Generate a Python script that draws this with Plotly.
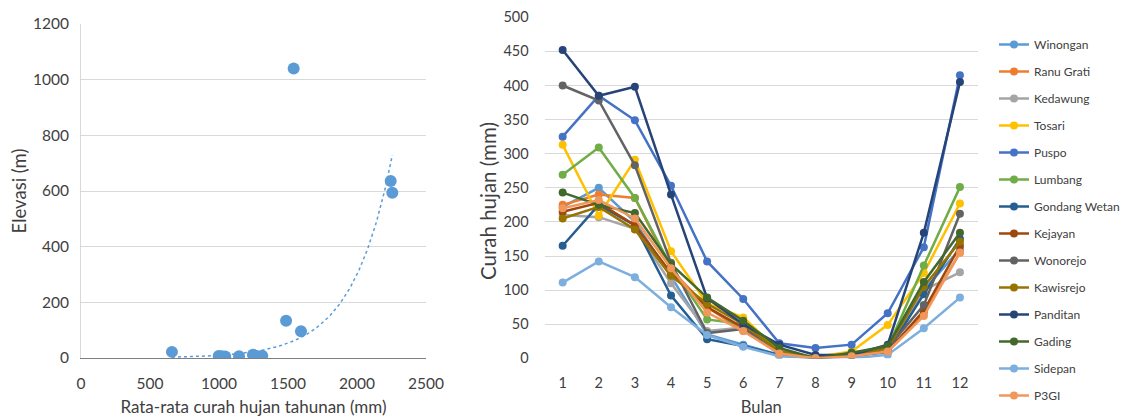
import numpy as np
import plotly.graph_objects as go

# ---- Left chart data: annual rainfall vs elevation ----
rain_annual = [659, 998, 1020, 1045, 1145, 1246, 1268, 1313, 1486, 1541, 1594, 2244, 2256]
elevation = [22, 7, 6, 5, 6, 12, 6, 8, 134, 1040, 96, 636, 594]

# ---- Right chart data: monthly rainfall per station ----
months = [1, 2, 3, 4, 5, 6, 7, 8, 9, 10, 11, 12]
winongan = [222, 250, 200, 120, 35, 20, 5, 0, 5, 8, 100, 160]
ranu_grati = [225, 240, 235, 130, 75, 40, 8, 0, 5, 10, 65, 155]
kedawung = [210, 207, 190, 110, 40, 45, 5, 0, 3, 10, 100, 126]
tosari = [313, 209, 291, 157, 80, 60, 10, 2, 10, 49, 125, 227]
puspo = [325, 385, 349, 253, 142, 87, 22, 15, 20, 66, 163, 415]
lumbang = [269, 309, 235, 135, 57, 50, 10, 0, 8, 15, 136, 251]
gondang_wetan = [165, 225, 195, 92, 28, 18, 5, 0, 3, 10, 94, 175]
kejayan = [215, 228, 195, 125, 75, 45, 8, 0, 5, 10, 70, 165]
wonorejo = [400, 378, 283, 140, 37, 43, 10, 0, 5, 15, 78, 212]
kawisrejo = [205, 222, 189, 121, 80, 50, 10, 0, 5, 15, 105, 171]
panditan = [452, 385, 398, 240, 88, 50, 20, 5, 5, 20, 184, 405]
gading = [243, 225, 213, 138, 89, 55, 15, 0, 8, 18, 112, 184]
sidepan = [111, 142, 119, 75, 34, 17, 3, 0, 0, 5, 44, 89]
p3gi = [220, 232, 205, 132, 67, 40, 7, 0, 3, 10, 62, 155]

station_names = ["Winongan", "Ranu Grati", "Kedawung", "Tosari", "Puspo", "Lumbang",
                 "Gondang Wetan", "Kejayan", "Wonorejo", "Kawisrejo", "Panditan",
                 "Gading", "Sidepan", "P3GI"]
station_values = [winongan, ranu_grati, kedawung, tosari, puspo, lumbang, gondang_wetan,
                  kejayan, wonorejo, kawisrejo, panditan, gading, sidepan, p3gi]
station_colors = ["#5B9BD5", "#ED7D31", "#A5A5A5", "#FFC000", "#4472C4", "#70AD47",
                  "#255E91", "#9E480E", "#636363", "#997300", "#264478", "#43682B",
                  "#7CAFDD", "#F1975A"]

FONT = "Lato, Open Sans, sans-serif"
TXT = "#404040"
# page body has an 8px margin: the figure is sized to fill the rest of the window
OFF = 8
W, H = 1129 - OFF, 417 - OFF


def px(xs):
    return (xs - OFF) / W


def py(ys):
    return 1 - (ys - OFF) / H


fig = go.Figure()

# Scatter
fig.add_trace(go.Scatter(x=rain_annual, y=elevation, mode="markers",
                         marker=dict(color="#5B9BD5", size=12),
                         showlegend=False, xaxis="x", yaxis="y"))

# Exponential trendline (least squares on ln y, as Excel does)
b, lna = np.polyfit(np.array(rain_annual, float), np.log(np.array(elevation, float)), 1)
tx = np.linspace(min(rain_annual), max(rain_annual), 200)
ty = np.exp(lna) * np.exp(b * tx)
fig.add_trace(go.Scatter(x=tx, y=ty, mode="lines",
                         line=dict(color="#5B9BD5", width=1.5, dash="dot"),
                         showlegend=False, xaxis="x", yaxis="y", hoverinfo="skip"))

# Monthly lines
for i, (name, vals, col) in enumerate(zip(station_names, station_values, station_colors)):
    fig.add_trace(go.Scatter(x=months, y=vals, mode="lines+markers", name=name,
                             line=dict(color=col, width=2.5),
                             marker=dict(color=col, size=8),
                             legendgroup=f"g{i}",
                             xaxis="x2", yaxis="y2"))

NOTICK = "rgba(0,0,0,0)"

fig.update_layout(
    width=W, height=H,
    margin=dict(l=0, r=0, t=0, b=0, autoexpand=False),
    paper_bgcolor="white", plot_bgcolor="white",
    font=dict(family=FONT, size=14, color=TXT),
    xaxis=dict(domain=[px(81), px(426)], range=[0, 2500], dtick=500, tick0=0,
               showgrid=False, zeroline=False, showline=True, linecolor="#7F7F7F",
               linewidth=1, ticks="outside", ticklen=11, tickcolor=NOTICK,
               tickfont=dict(size=15.5, color=TXT),
               title=dict(text="Rata-rata curah hujan tahunan (mm)", standoff=10,
                          font=dict(size=17, color=TXT)), anchor="y"),
    yaxis=dict(domain=[py(358), py(24)], range=[0, 1200], dtick=200, tick0=0,
               showgrid=True, gridcolor="#D9D9D9", zeroline=False, showline=True,
               linecolor="#D9D9D9", ticks="outside", ticklen=8, tickcolor=NOTICK,
               tickfont=dict(size=15.5, color=TXT),
               title=dict(text="Elevasi (m)", standoff=2, font=dict(size=18.5, color=TXT)),
               anchor="x"),
    xaxis2=dict(domain=[px(544.6), px(978)], range=[0.5, 12.5], tickvals=months,
                ticktext=[str(m) for m in months], showgrid=False, zeroline=False,
                showline=False, ticks="outside", ticklen=11, tickcolor=NOTICK,
                tickfont=dict(size=14.5, color=TXT),
                title=dict(text="Bulan", standoff=12, font=dict(size=16.5, color=TXT)),
                anchor="y2"),
    yaxis2=dict(domain=[py(358.3), py(17.3)], range=[0, 500], dtick=50, tick0=0,
                showgrid=True, gridcolor="#D9D9D9", zeroline=False, showline=False,
                ticks="outside", ticklen=12, tickcolor=NOTICK,
                tickfont=dict(size=14.5, color=TXT), anchor="x2"),
    annotations=[dict(text="Curah hujan (mm)", textangle=-90, xref="paper", yref="paper",
                      x=px(488), y=py(201), xanchor="center", yanchor="middle",
                      showarrow=False, font=dict(size=20.5, color=TXT, family=FONT))],
    legend=dict(x=px(994), y=py(30), xanchor="left", yanchor="top",
                font=dict(size=12, color=TXT), tracegroupgap=8,
                bgcolor="rgba(0,0,0,0)"),
    showlegend=True,
)

fig.write_html("out.html")
